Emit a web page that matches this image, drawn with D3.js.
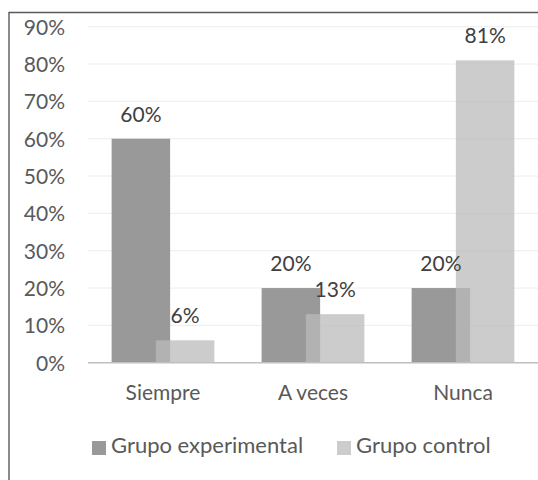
<!DOCTYPE html>
<html>
<head>
<meta charset="utf-8">
<script src="https://cdn.jsdelivr.net/npm/d3@7"></script>
<style>
  html, body { margin: 0; padding: 0; background: #fff; }
  svg { display: block; }
  text { font-family: Lato, "Open Sans", sans-serif; }
</style>
</head>
<body>
<svg id="chart" width="538" height="480"></svg>
<script>
const categories = ["Siempre", "A veces", "Nunca"];
const seriesNames = ["Grupo experimental", "Grupo control"];
const experimental = [0.60, 0.20, 0.20];
const control = [0.06, 0.13, 0.81];
const yTicks = [0, 0.1, 0.2, 0.3, 0.4, 0.5, 0.6, 0.7, 0.8, 0.9];
const colors = ["#999999", "#bbbbbb"];

const svg = d3.select("#chart");

// frame
svg.append("path")
  .attr("d", "M9,481 L9,12.5 L539,12.5")
  .attr("fill", "none")
  .attr("stroke", "#5a5a5a")
  .attr("stroke-width", 1.4);

const x = d3.scaleBand().domain(categories).range([88, 538]).padding(0);
const y = d3.scaleLinear().domain([0, 0.9]).range([362.7, 26.7]);

// gridlines
svg.append("g").selectAll("line")
  .data(yTicks.filter(d => d > 0))
  .join("line")
  .attr("x1", 88).attr("x2", 538)
  .attr("y1", d => y(d)).attr("y2", d => y(d))
  .attr("stroke", "#ededed").attr("stroke-width", 1);

// y axis labels
const yAxis = d3.axisLeft(y).tickValues(yTicks).tickFormat(d3.format(".0%")).tickSize(0).tickPadding(0);
const ya = svg.append("g").attr("transform", "translate(65,0)").call(yAxis);
ya.select(".domain").remove();
ya.selectAll("text")
  .attr("fill", "#595959")
  .style("font-size", "21px")
  .attr("dy", "0.35em");

const bw = x.bandwidth();
const barW = bw * 0.39;
const off = bw * 0.295;
const groupW = off + barW;

const bars = [];
categories.forEach((c, i) => [experimental[i], control[i]].forEach((v, s) => bars.push({ c, v, s })));

const bx = d => x(d.c) + (bw - groupW) / 2 + d.s * off;

svg.append("g").selectAll("rect")
  .data(bars)
  .join("rect")
  .attr("x", bx)
  .attr("width", barW)
  .attr("y", d => y(d.v))
  .attr("height", d => y(0) - y(d.v))
  .attr("fill", d => colors[d.s])
  .attr("fill-opacity", d => d.s === 1 ? 0.75 : 1);

// baseline
svg.append("line")
  .attr("x1", 88).attr("x2", 538)
  .attr("y1", y(0)).attr("y2", y(0))
  .attr("stroke", "#bfbfbf").attr("stroke-width", 1.5);

// data labels
svg.append("g").selectAll("text")
  .data(bars)
  .join("text")
  .attr("x", d => bx(d) + barW / 2)
  .attr("y", d => y(d.v) - 17)
  .attr("text-anchor", "middle")
  .attr("fill", "#404040")
  .style("font-size", "21px")
  .text(d => d3.format(".0%")(d.v));

// category labels
const xAxis = d3.axisBottom(x).tickSize(0).tickPadding(0);
const xa = svg.append("g").attr("transform", "translate(0,400)").call(xAxis);
xa.select(".domain").remove();
xa.selectAll("text")
  .attr("fill", "#595959")
  .attr("dy", 0)
  .style("font-size", "21px");

// legend
const legendX = [92, 337];
const lg = svg.append("g").selectAll("g")
  .data(seriesNames)
  .join("g")
  .attr("transform", (d, i) => `translate(${legendX[i]},441)`);
lg.append("rect").attr("width", 14).attr("height", 14).attr("fill", (d, i) => i === 1 ? "#cccccc" : colors[i]);
lg.append("text").attr("x", 19).attr("y", 12)
  .attr("fill", "#595959")
  .style("font-size", "22px")
  .text(d => d);
</script>
</body>
</html>
